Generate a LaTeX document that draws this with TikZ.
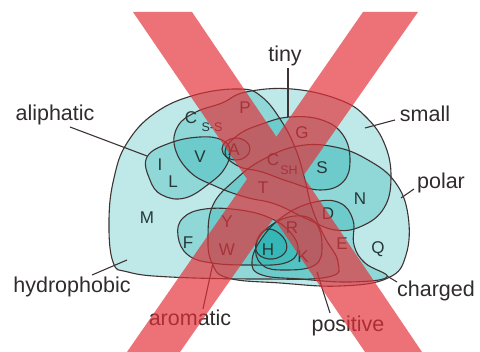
\documentclass[tikz,border=0pt]{standalone}
\usepackage{fontspec}
\setmainfont{Liberation Sans}
\definecolor{tealc}{RGB}{20,172,172}
\definecolor{linec}{RGB}{62,52,52}
\definecolor{textc}{RGB}{48,44,44}
\definecolor{letc}{RGB}{38,56,56}
\definecolor{redx}{RGB}{228,48,56}
\begin{document}
\begin{tikzpicture}[x=1pt,y=-1pt,
  setfill/.style={fill=tealc, fill opacity=0.27},
  setline/.style={draw=linec, line width=1.1pt},
  lbl/.style={font=\fontsize{21.5}{21.5}\selectfont, text=textc, inner sep=0pt},
  aa/.style={font=\fontsize{17}{17}\selectfont, text=letc, inner sep=0pt},
  subs/.style={font=\fontsize{12.5}{12.5}\selectfont, text=letc, inner sep=0pt},
  leader/.style={draw=linec, line width=1.1pt}]
\useasboundingbox (0,0) rectangle (480,352);
\fill[white] (0,0) rectangle (480,352);

% ---- set fills ----
% hydrophobic
\path[setfill] plot[smooth cycle, tension=0.7] coordinates {(113,262) (109,220) (114,178) (127,143) (155,113) (195,95) (240,89) (262,97) (282,122) (296,150) (305,180) (312,208) (324,236) (338,262) (328,277) (260,279) (170,277) (128,272)};
% small
\path[setfill] plot[smooth cycle, tension=0.7] coordinates {(175,148) (178,126) (196,112) (222,103) (246,92) (292,89) (340,100) (367,118) (385,145) (391,178) (384,208) (362,226) (335,230) (305,218) (275,204) (245,197) (215,186) (190,172)};
% tiny
\path[setfill] plot[smooth cycle, tension=0.7] coordinates {(225,152) (238,135) (262,124) (290,117) (322,120) (343,135) (350,160) (343,182) (320,190) (290,182) (262,172) (238,166)};
% A loop
\path[setfill] (236,149) ellipse [x radius=14, y radius=11];
% aliphatic
\path[setfill] plot[smooth cycle, tension=0.7] coordinates {(147,157) (170,143) (200,137) (222,140) (230,151) (225,168) (210,183) (185,198) (162,195) (150,180)};
% aromatic
\path[setfill] plot[smooth cycle, tension=0.7] coordinates {(178,236) (183,218) (205,209) (240,210) (270,218) (290,232) (298,250) (285,263) (250,265) (212,263) (188,255)};
% polar
\path[setfill] plot[smooth cycle, tension=0.7] coordinates {(208,238) (213,205) (235,180) (262,160) (298,146) (335,147) (368,160) (395,182) (408,215) (406,255) (388,278) (340,286) (280,283) (228,278) (212,263)};
% charged
\path[setfill] plot[smooth cycle, tension=0.7] coordinates {(252,262) (262,238) (285,215) (315,202) (340,203) (353,220) (354,245) (365,263) (387,277) (350,282) (300,279) (262,275)};
% positive
\path[setfill] plot[smooth cycle, tension=0.7] coordinates {(256,245) (270,226) (295,216) (315,222) (322,245) (315,265) (285,270) (262,265)};
% H loop
\path[setfill] plot[smooth cycle, tension=0.7] coordinates {(257,240) (268,229) (283,237) (286,251) (273,259) (258,254)};

% ---- set outlines ----
\path[setline] plot[smooth cycle, tension=0.7] coordinates {(113,262) (109,220) (114,178) (127,143) (155,113) (195,95) (240,89) (262,97) (282,122) (296,150) (305,180) (312,208) (324,236) (338,262) (328,277) (260,279) (170,277) (128,272)};
\path[setline] plot[smooth cycle, tension=0.7] coordinates {(175,148) (178,126) (196,112) (222,103) (246,92) (292,89) (340,100) (367,118) (385,145) (391,178) (384,208) (362,226) (335,230) (305,218) (275,204) (245,197) (215,186) (190,172)};
\path[setline] plot[smooth cycle, tension=0.7] coordinates {(225,152) (238,135) (262,124) (290,117) (322,120) (343,135) (350,160) (343,182) (320,190) (290,182) (262,172) (238,166)};
\path[setline] (236,149) ellipse [x radius=14, y radius=11];
\path[setline] plot[smooth cycle, tension=0.7] coordinates {(147,157) (170,143) (200,137) (222,140) (230,151) (225,168) (210,183) (185,198) (162,195) (150,180)};
\path[setline] plot[smooth cycle, tension=0.7] coordinates {(178,236) (183,218) (205,209) (240,210) (270,218) (290,232) (298,250) (285,263) (250,265) (212,263) (188,255)};
\path[setline] plot[smooth cycle, tension=0.7] coordinates {(208,238) (213,205) (235,180) (262,160) (298,146) (335,147) (368,160) (395,182) (408,215) (406,255) (388,278) (340,286) (280,283) (228,278) (212,263)};
\path[setline] plot[smooth cycle, tension=0.7] coordinates {(252,262) (262,238) (285,215) (315,202) (340,203) (353,220) (354,245) (365,263) (387,277) (350,282) (300,279) (262,275)};
\path[setline] plot[smooth cycle, tension=0.7] coordinates {(256,245) (270,226) (295,216) (315,222) (322,245) (315,265) (285,270) (262,265)};
\path[setline] plot[smooth cycle, tension=0.7] coordinates {(257,240) (268,229) (283,237) (286,251) (273,259) (258,254)};

% ---- amino acid letters ----
\node[aa] (lCss) at (191,118) {C};
\node[subs] (lSS) at (212,127) {S-S};
\node[aa] (lP) at (245,108) {P};
\node[aa] (lG) at (302,133) {G};
\node[aa] (lA) at (234,150) {A};
\node[aa] (lCsh) at (273,160) {C};
\node[subs] (lSH) at (289,170) {SH};
\node[aa] (lS) at (322,168) {S};
\node[aa] (lI) at (160,165) {I};
\node[aa] (lV) at (200,157) {V};
\node[aa] (lL) at (173,182) {L};
\node[aa] (lT) at (263,188) {T};
\node[aa] (lM) at (147,218) {M};
\node[aa] (lF) at (188,243) {F};
\node[aa] (lY) at (227,222) {Y};
\node[aa] (lW) at (227,250) {W};
\node[aa] (lH) at (268,250) {H};
\node[aa] (lR) at (292,228) {R};
\node[aa] (lK) at (303,257) {K};
\node[aa] (lD) at (328,214) {D};
\node[aa] (lE) at (342,244) {E};
\node[aa] (lN) at (360,199) {N};
\node[aa] (lQ) at (378,249) {Q};

% ---- set labels ----
\node[lbl] (tiny) at (285,56) {tiny};
\node[lbl] (small) at (425,114) {small};
\node[lbl] (aliph) at (55,115) {aliphatic};
\node[lbl] (polar) at (441,183) {polar};
\node[lbl] (hydro) at (72,287) {hydrophobic};
\node[lbl] (arom) at (190,318) {aromatic};
\node[lbl] (charg) at (436,291) {charged};
\node[lbl] (posit) at (348,326) {positive};

% ---- leader lines ----
\coordinate (tinyA) at (288,68);   \coordinate (tinyB) at (288,117);
\coordinate (smallA) at (395,120); \coordinate (smallB) at (365,128);
\coordinate (aliA) at (70,127);    \coordinate (aliB) at (147,156);
\coordinate (polA) at (414,189);   \coordinate (polB) at (401,198);
\coordinate (hydA) at (92,275);    \coordinate (hydB) at (127,260);
\coordinate (aroA) at (203,309);   \coordinate (aroB) at (213,263);
\coordinate (chaA) at (397,282);   \coordinate (chaB) at (387,276);
\coordinate (posA) at (330,313);   \coordinate (posB) at (317,272);
\draw[leader] (tinyA) -- (tinyB);
\draw[leader] (smallA) -- (smallB);
\draw[leader] (aliA) -- (aliB);
\draw[leader] (polA) -- (polB);
\draw[leader] (hydA) -- (hydB);
\draw[leader] (aroA) -- (aroB);
\draw[leader] (chaA) -- (chaB);
\draw[leader] (posA) -- (posB);

% ---- red cross ----
\fill[redx, fill opacity=0.68] (133,12) -- (192,12) -- (422,352) -- (365,352) -- cycle
  (363,12) -- (418,12) -- (180,352) -- (127,352) -- cycle;
\end{tikzpicture}
\end{document}
